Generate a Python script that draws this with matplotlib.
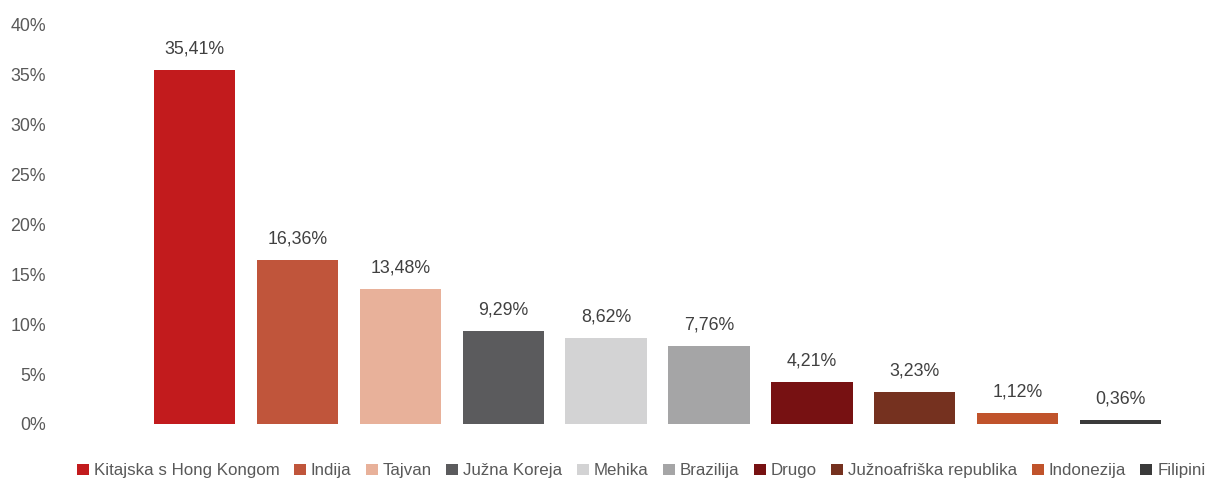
import matplotlib.pyplot as plt
from matplotlib.patches import Patch

countries = ["Kitajska s Hong Kongom", "Indija", "Tajvan", "Južna Koreja", "Mehika",
             "Brazilija", "Drugo", "Južnoafriška republika", "Indonezija", "Filipini"]
shares = [35.41, 16.36, 13.48, 9.29, 8.62, 7.76, 4.21, 3.23, 1.12, 0.36]
colors = ["#C21B1D", "#C0553B", "#E8B19A", "#5B5B5D", "#D3D3D4",
          "#A5A5A6", "#771112", "#75311F", "#C0532B", "#3A3A3A"]
y_ticks = [0, 5, 10, 15, 20, 25, 30, 35, 40]

plt.rcParams['font.family'] = ['Liberation Sans Narrow', 'Liberation Sans', 'DejaVu Sans']
text_color = "#595959"

fig = plt.figure(figsize=(12.12, 4.84), dpi=100)
ax = fig.add_axes([0.118, 0.124, 0.849, 0.826])

x = range(len(countries))
bars = ax.bar(x, shares, width=0.79, color=colors)

for xi, v in zip(x, shares):
    ax.annotate(f"{v:.2f}%".replace(".", ","), (xi, v), xytext=(0, 9),
                textcoords="offset points", ha="center", va="bottom",
                fontsize=12.8, color="#404040")

ax.set_xlim(-0.5, len(countries) - 0.5)
ax.set_ylim(0, 40)
ax.set_yticks(y_ticks)
ax.set_yticklabels([f"{t}%" for t in y_ticks])
ax.tick_params(axis="y", length=0, pad=70, labelsize=12.8, labelcolor=text_color)
ax.set_xticks([])
for s in ax.spines.values():
    s.set_visible(False)

handles = [Patch(facecolor=c, edgecolor="none") for c in colors]
fig.legend(handles, countries, loc="center", bbox_to_anchor=(0.529, 0.027),
           ncol=len(countries), frameon=False, fontsize=12.2,
           handlelength=0.7, handleheight=0.7, handletextpad=0.3,
           columnspacing=0.85, labelcolor=text_color)

plt.savefig("out.png", dpi=100)
